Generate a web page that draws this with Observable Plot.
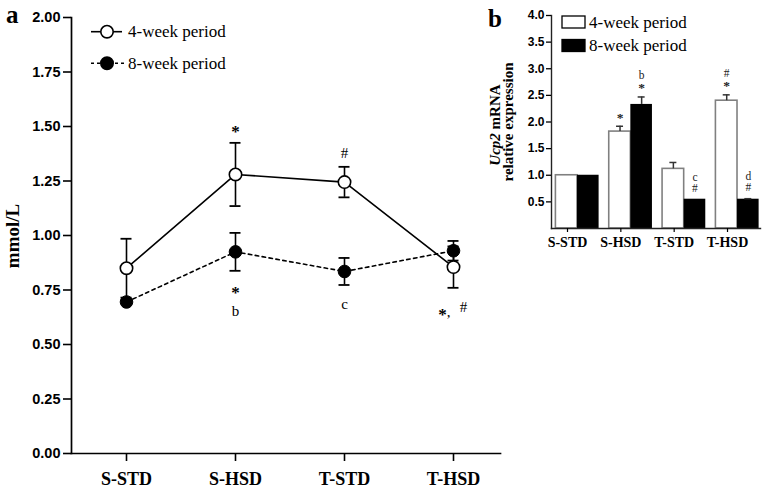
<!DOCTYPE html>
<html><head><meta charset="utf-8">
<script src="https://cdn.jsdelivr.net/npm/d3@7"></script>
<script src="https://cdn.jsdelivr.net/npm/@observablehq/plot@0.6"></script>
<style>
body{margin:0;background:#fff;}
#wrap{position:relative;width:765px;height:489px;overflow:hidden;background:#fff;}
#pa{position:absolute;left:0;top:0;}
#pb{position:absolute;left:480px;top:0;}
</style></head><body><div id="wrap"><div id="pa"></div><div id="pb"></div></div>
<script>
// ---------- data ----------
const groups = ["S-STD", "S-HSD", "T-STD", "T-HSD"];
const seriesNames = ["4-week period", "8-week period"];

// panel a (mmol/L): mean and error
const a4Mean = [0.85, 1.28, 1.245, 0.855];
const a4Err  = [0.135, 0.145, 0.07, 0.095];
const a8Mean = [0.695, 0.925, 0.835, 0.93];
const a8Err  = [0, 0.087, 0.062, 0.045];
const aTicks = [0, 0.25, 0.5, 0.75, 1.0, 1.25, 1.5, 1.75, 2.0];

// panel a significance labels
const aNotesAbove = [{group: "S-HSD", series: 0, lines: ["*"]}, {group: "T-STD", series: 0, lines: ["#"]}];
const aNotesBelow = [{group: "S-HSD", series: 1, lines: ["*", "b"]}, {group: "T-STD", series: 1, lines: ["c"]}];
const aNoteTHSD = ["*", ",", "#"];

// panel b (Ucp2 mRNA relative expression)
const b4Mean = [1.0, 1.82, 1.12, 2.40];
const b4Err  = [0, 0.10, 0.12, 0.11];
const b8Mean = [1.0, 2.33, 0.55, 0.55];
const b8Err  = [0, 0.14, 0, 0.01];
const bTicks = [0.5, 1.0, 1.5, 2.0, 2.5, 3.0, 3.5, 4.0];
const bNotes = [
  {group: "S-HSD", series: 0, lines: ["*"]},
  {group: "S-HSD", series: 1, lines: ["*", "b"]},
  {group: "T-STD", series: 1, lines: ["#", "c"]},
  {group: "T-HSD", series: 0, lines: ["*", "#"]},
  {group: "T-HSD", series: 1, lines: ["#", "d"]}
];

// ---------- styles ----------
const serif = "'Liberation Serif','Times New Roman',Times,serif";
const sans = "'Liberation Sans',Arial,Helvetica,sans-serif";
const ink = "#000";
const starStyle = (t, size) => t === "*" ? {fontSize: size + 2, fontWeight: "bold", dyAdj: 3} : {fontSize: size, fontWeight: "normal", dyAdj: 0};

// ---------- panel a ----------
const rowsA = [];
groups.forEach((g, i) => {
  rowsA.push({group: g, s: 0, mean: a4Mean[i], err: a4Err[i]});
  rowsA.push({group: g, s: 1, mean: a8Mean[i], err: a8Err[i]});
});
const rA4 = rowsA.filter(d => d.s === 0), rA8 = rowsA.filter(d => d.s === 1);
const rAerr = rowsA.filter(d => d.err > 0);
const findA = (g, s) => rowsA.find(d => d.group === g && d.s === s);

const noteA = (r, t, yf, dx, dy) => {
  const st = starStyle(t, 15);
  return Plot.text([r], {x: "group", y: yf, text: () => t, dx, dy: dy + st.dyAdj,
    fontSize: st.fontSize, fontWeight: st.fontWeight, fontFamily: serif, fill: ink, lineAnchor: "middle"});
};
const noteMarksA = [];
aNotesAbove.forEach(n => {
  const r = findA(n.group, n.series);
  n.lines.forEach((t, k) => noteMarksA.push(noteA(r, t, d => d.mean + d.err, 0, -14 - 12 * k)));
});
aNotesBelow.forEach(n => {
  const r = findA(n.group, n.series);
  n.lines.forEach((t, k) => noteMarksA.push(noteA(r, t, d => d.mean - d.err, 0, 19 + 21 * k)));
});
{
  const r = findA("T-HSD", 0);
  const offs = [[-11, 24], [-5, 24], [10, 19]];
  aNoteTHSD.forEach((t, k) => noteMarksA.push(noteA(r, t, d => d.mean - d.err, offs[k][0], offs[k][1])));
}

const plotA = Plot.plot({
  width: 520, height: 489,
  marginLeft: 71, marginRight: 20, marginTop: 17, marginBottom: 36,
  style: {background: "transparent", color: ink},
  x: {type: "point", domain: groups, range: [126, 453], padding: 0},
  y: {domain: [0, 2]},
  marks: [
    Plot.frame({anchor: "left", stroke: ink, strokeWidth: 1.7}),
    Plot.frame({anchor: "bottom", stroke: ink, strokeWidth: 1.7}),
    Plot.axisY({ticks: aTicks, tickFormat: d3.format(".2f"), tickSize: 8, tickPadding: 3, label: null,
      fontSize: 14.5, fontWeight: "bold", fontFamily: sans, strokeWidth: 1.6}),
    Plot.axisX({tickSize: 8, tickPadding: 11, label: null, fontSize: 18, fontWeight: "bold", fontFamily: serif, strokeWidth: 1.6}),
    Plot.line(rA4, {x: "group", y: "mean", stroke: ink, strokeWidth: 1.6}),
    Plot.line(rA8, {x: "group", y: "mean", stroke: ink, strokeWidth: 1.6, strokeDasharray: "3.5,3.5"}),
    Plot.ruleX(rAerr, {x: "group", y1: d => d.mean - d.err, y2: d => d.mean + d.err, stroke: ink, strokeWidth: 1.6}),
    Plot.ruleY(rAerr, {x1: "group", x2: "group", y: d => d.mean + d.err, insetLeft: -5.5, insetRight: -5.5, stroke: ink, strokeWidth: 1.8}),
    Plot.ruleY(rAerr, {x1: "group", x2: "group", y: d => d.mean - d.err, insetLeft: -5.5, insetRight: -5.5, stroke: ink, strokeWidth: 1.8}),
    Plot.dot(rA8, {x: "group", y: "mean", r: 6.3, fill: ink, stroke: ink, strokeWidth: 1}),
    Plot.dot(rA4, {x: "group", y: "mean", r: 6.2, fill: "white", stroke: ink, strokeWidth: 1.6}),
    ...noteMarksA
  ]
});
document.getElementById("pa").appendChild(plotA);
{
  const svg = d3.select(plotA);
  svg.append("text").attr("x", 6).attr("y", 23).attr("text-anchor", "start").attr("font-family", serif)
    .attr("font-weight", "bold").attr("font-size", 25).attr("fill", ink).text("a");
  svg.append("text").attr("transform", "translate(19,236) rotate(-90)").attr("text-anchor", "middle")
    .attr("font-family", serif).attr("font-weight", "bold").attr("font-size", 19).attr("fill", ink).text("mmol/L");
  // legend
  const lg = svg.append("g");
  [[31.7, null, "white"], [63.3, "3,3", ink]].forEach(([y, dash, fill], k) => {
    lg.append("line").attr("x1", 91).attr("x2", k ? 125 : 122).attr("y1", y).attr("y2", y)
      .attr("stroke", ink).attr("stroke-width", 1.6).attr("stroke-dasharray", dash);
    lg.append("circle").attr("cx", 107).attr("cy", y).attr("r", 6.2).attr("fill", fill)
      .attr("stroke", ink).attr("stroke-width", 1.6);
    lg.append("text").attr("x", 128).attr("y", y + 5.5).attr("text-anchor", "start").attr("font-family", serif)
      .attr("font-size", 17).attr("fill", ink).text(seriesNames[k]);
  });
}

// ---------- panel b ----------
const bw = 0.405;
const rowsB = [];
groups.forEach((g, i) => {
  rowsB.push({group: g, i, s: 0, mean: b4Mean[i], err: b4Err[i], x1: i - bw, x2: i, xc: i - bw / 2});
  rowsB.push({group: g, i, s: 1, mean: b8Mean[i], err: b8Err[i], x1: i, x2: i + bw, xc: i + bw / 2});
});
const rB4 = rowsB.filter(d => d.s === 0), rB8 = rowsB.filter(d => d.s === 1);
const rBerr = rowsB.filter(d => d.err > 0);
const findB = (g, s) => rowsB.find(d => d.group === g && d.s === s);
const noteMarksB = [];
bNotes.forEach(n => {
  const r = findB(n.group, n.series);
  n.lines.forEach((t, k) => {
    const st = starStyle(t, 11.5);
    noteMarksB.push(Plot.text([r], {x: "xc", y: d => d.mean + d.err, text: () => t,
      dy: -11 - 11 * k + st.dyAdj * 0.7, fontSize: st.fontSize, fontWeight: st.fontWeight,
      fontFamily: serif, fill: "#222", lineAnchor: "middle"}));
  });
});

const plotB = Plot.plot({
  width: 285, height: 260,
  marginLeft: 71, marginRight: 5, marginTop: 15, marginBottom: 32,
  style: {background: "transparent", color: ink},
  x: {type: "linear", domain: [-0.4875, 3.431]},
  y: {domain: [0, 4]},
  marks: [
    Plot.rect(rB4, {x1: "x1", x2: "x2", y1: 0, y2: "mean", fill: "white", stroke: "#808080", strokeWidth: 1.6}),
    Plot.rect(rB8, {x1: "x1", x2: "x2", y1: 0, y2: "mean", fill: "#000"}),
    Plot.ruleX(rBerr, {x: "xc", y1: "mean", y2: d => d.mean + d.err, stroke: "#333", strokeWidth: 1.5}),
    Plot.ruleY(rBerr, {x1: "xc", x2: "xc", y: d => d.mean + d.err, insetLeft: -3.5, insetRight: -3.5, stroke: "#333", strokeWidth: 1.5}),
    Plot.frame({anchor: "left", stroke: "#222", strokeWidth: 1.4}),
    Plot.frame({anchor: "bottom", stroke: "#222", strokeWidth: 1.4}),
    Plot.axisY({ticks: bTicks, tickFormat: d3.format(".1f"), tickSize: 5, tickPadding: 2, label: null,
      fontSize: 12, fontWeight: "bold", fontFamily: sans, strokeWidth: 1.3}),
    Plot.axisX({ticks: [0, 1, 2, 3], tickFormat: i => groups[i], tickSize: 4, tickPadding: 5, dx: -10, label: null,
      fontSize: 14, fontWeight: "bold", fontFamily: serif, strokeWidth: 1.2}),
    ...noteMarksB
  ]
});
document.getElementById("pb").appendChild(plotB);
{
  const svg = d3.select(plotB);
  svg.append("text").attr("x", 8).attr("y", 27).attr("text-anchor", "start").attr("font-family", serif)
    .attr("font-weight", "bold").attr("font-size", 25).attr("fill", ink).text("b");
  const t1 = svg.append("text").attr("transform", "translate(20,125) rotate(-90)").attr("text-anchor", "middle")
    .attr("font-family", serif).attr("font-weight", "bold").attr("font-size", 15).attr("fill", ink);
  t1.append("tspan").attr("font-style", "italic").text("Ucp2");
  t1.append("tspan").text(" mRNA");
  svg.append("text").attr("transform", "translate(32.5,122) rotate(-90)").attr("text-anchor", "middle")
    .attr("font-family", serif).attr("font-weight", "bold").attr("font-size", 15).attr("fill", ink)
    .text("relative expression");
  // legend
  [[16, "white", "#000"], [39.5, "#000", "#000"]].forEach(([y, fill, stroke], k) => {
    svg.append("rect").attr("x", 82).attr("y", y).attr("width", 23).attr("height", 12)
      .attr("fill", fill).attr("stroke", stroke).attr("stroke-width", 1.3);
    svg.append("text").attr("x", 109).attr("y", y + 11.5).attr("text-anchor", "start").attr("font-family", serif)
      .attr("font-size", 17).attr("fill", ink).text(seriesNames[k]);
  });
}
</script></body></html>
